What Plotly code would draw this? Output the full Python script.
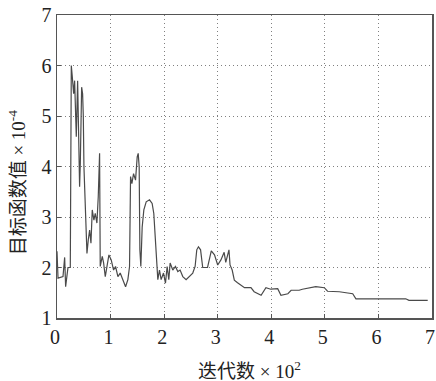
import plotly.graph_objects as go

iter_x = [0.0, 0.019, 0.112, 0.143, 0.161, 0.205, 0.248, 0.267, 0.286, 0.311, 0.329, 0.348, 0.360,
          0.385, 0.398, 0.422, 0.435, 0.460, 0.478, 0.491, 0.503, 0.534, 0.559, 0.584, 0.609, 0.634,
          0.658, 0.689, 0.714, 0.745, 0.770, 0.795, 0.807, 0.845, 0.870, 0.901, 0.932, 0.969, 1.012,
          1.056, 1.093, 1.137, 1.180, 1.230, 1.280, 1.323, 1.354, 1.373, 1.398, 1.429, 1.466, 1.497,
          1.516, 1.534, 1.547, 1.565, 1.590, 1.621, 1.665, 1.727, 1.776, 1.807, 1.832, 1.857, 1.882,
          1.913, 1.944, 1.988, 2.025, 2.056, 2.087, 2.112, 2.161, 2.211, 2.255, 2.298, 2.348, 2.410,
          2.472, 2.534, 2.578, 2.609, 2.640, 2.68, 2.72, 2.81, 2.88, 2.94, 3.0, 3.06, 3.12, 3.15,
          3.21, 3.23, 3.27, 3.31, 3.37, 3.44, 3.5, 3.62, 3.68, 3.81, 3.90, 3.99, 4.12, 4.18, 4.31,
          4.37, 4.52, 4.58, 4.77, 4.83, 4.99, 5.05, 5.27, 5.39, 5.52, 5.58, 6.51, 6.57, 6.92]
obj_val = [2.32, 1.79, 1.82, 2.2, 1.62, 2.0, 2.0, 6.0, 5.77, 5.44, 5.7, 4.98, 4.59,
           5.7, 4.98, 3.6, 4.06, 5.57, 5.44, 5.0, 3.99, 2.94, 2.28, 2.55, 2.74, 2.48,
           3.14, 2.94, 3.07, 2.88, 3.4, 4.26, 2.02, 2.22, 2.09, 1.82, 2.02, 2.25, 2.15,
           1.95, 2.02, 1.82, 1.89, 1.76, 1.62, 1.76, 2.02, 3.8, 3.66, 3.86, 3.73, 4.19,
           4.26, 3.99, 2.35, 2.02, 2.8, 3.14, 3.3, 3.34, 3.27, 3.07, 2.61, 2.22, 1.76,
           1.95, 1.76, 1.89, 1.69, 2.02, 1.76, 2.09, 1.95, 2.02, 1.92, 1.95, 1.82, 1.76,
           1.82, 1.89, 2.02, 2.35, 2.41, 2.35, 2.0, 2.0, 2.33, 2.25, 2.05, 2.15, 2.3, 2.1,
           2.35, 2.05, 1.95, 1.75, 1.7, 1.65, 1.6, 1.6, 1.52, 1.45, 1.6, 1.57, 1.58, 1.45, 1.48,
           1.55, 1.55, 1.57, 1.6, 1.62, 1.6, 1.53, 1.52, 1.5, 1.48, 1.38, 1.38, 1.35, 1.35]

x_ticks = [0, 1, 2, 3, 4, 5, 6, 7]
y_ticks = [1, 2, 3, 4, 5, 6, 7]
x_title = "迭代数 × 10<sup>2</sup>"
y_title = "目标函数值 × 10<sup>-4</sup>"

serif = "Liberation Serif"
mixed = "Liberation Serif, Noto Sans CJK SC"

fig = go.Figure()
fig.add_trace(go.Scatter(x=iter_x, y=obj_val, mode="lines",
                         line=dict(color="#4a4a4a", width=1.2), showlegend=False))

axis_common = dict(
    showline=True, linecolor="#555555", linewidth=1.5, mirror=True,
    showgrid=True, gridcolor="#808080", griddash="1px,3px", gridwidth=1,
    zeroline=False, ticks="inside", ticklen=4, tickcolor="#555555",
    tickfont=dict(family=serif, size=20, color="#222222"),
    automargin=False, ticklabeloverflow="allow",
)

fig.update_layout(
    width=436, height=381,
    margin=dict(l=57, r=4, t=15, b=63),
    paper_bgcolor="white", plot_bgcolor="white",
    font=dict(family=mixed, color="#222222"),
    hovermode=False,
    xaxis=dict(range=[0, 7], tickvals=x_ticks, ticklabelshift=-2, **axis_common),
    yaxis=dict(range=[1, 7], tickvals=y_ticks, **axis_common),
    annotations=[
        dict(text=x_title, xref="paper", yref="paper", x=0.513, y=-0.172,
             showarrow=False, xanchor="center", yanchor="middle",
             font=dict(family=mixed, size=19, color="#222222")),
        dict(text=y_title, xref="paper", yref="paper", x=-0.108, y=0.446,
             showarrow=False, xanchor="center", yanchor="middle", textangle=-90,
             font=dict(family=mixed, size=19, color="#222222")),
    ],
)

# remove the default page margin so the 436x381 figure fills the window exactly
fig.write_html("out.html",
               config={"displayModeBar": False, "staticPlot": True},
               post_script="document.body.style.margin='0';document.body.style.overflow='hidden';")
